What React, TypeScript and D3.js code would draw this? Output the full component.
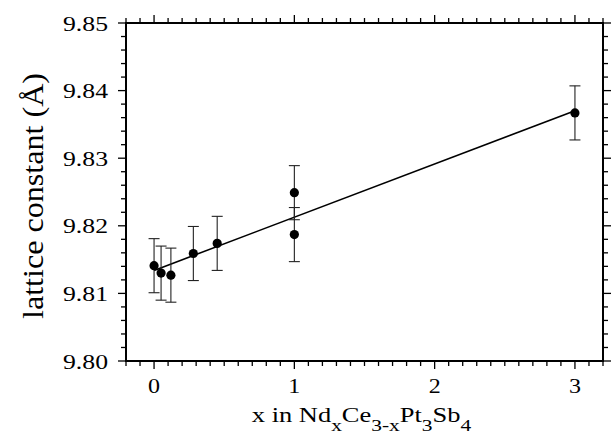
import React from "react";
import * as d3 from "d3";

const xValues = [0, 0.05, 0.12, 0.28, 0.45, 1.0, 1.0, 3.0];
const yValues = [9.8141, 9.813, 9.8127, 9.8159, 9.8174, 9.8249, 9.8187, 9.8367];
const yErrors = [0.004, 0.004, 0.004, 0.004, 0.004, 0.004, 0.004, 0.004];
const fitIntercept = 9.8134;
const fitSlope = 0.00787;
const fitRange = [0, 3];
const xTickLabels = ["0", "1", "2", "3"];
const yTickLabels = ["9.80", "9.81", "9.82", "9.83", "9.84", "9.85"];

const W = 613;
const H = 435;
const L = 126, R = 603, T = 23, B = 361;
const FONT = "Liberation Serif, Times New Roman, Times, serif";

export default function App() {
  const x = d3.scaleLinear().domain([-0.2, 3.2]).range([L, R]);
  const y = d3.scaleLinear().domain([9.8, 9.85]).range([B, T]);

  const xMinor = d3.range(-2, 33).map((i) => i / 10);
  const yMinor = d3.range(0, 26).map((i) => 9.8 + i * 0.002);
  const isMajorX = (v: number) => Math.abs(v - Math.round(v)) < 1e-6;
  const isMajorY = (v: number) => Math.abs(v * 100 - Math.round(v * 100)) < 1e-6;

  const line = d3
    .line<number>()
    .x((d) => x(d))
    .y((d) => y(fitIntercept + fitSlope * d));

  const majLen = 8, minLen = 5;

  return (
    <svg
      width={W}
      height={H}
      style={{ position: "absolute", left: 0, top: 0, background: "#fff" }}
      fontFamily={FONT}
    >
      <rect x={0} y={0} width={W} height={H} fill="#fff" />
      {xMinor.map((v, i) => {
        const len = isMajorX(v) ? majLen : minLen;
        return (
          <g key={"xt" + i} stroke="#000" strokeWidth={1.3}>
            <line x1={x(v)} x2={x(v)} y1={B} y2={B + len} />
            <line x1={x(v)} x2={x(v)} y1={T} y2={T - len} />
          </g>
        );
      })}
      {yMinor.map((v, i) => {
        const len = isMajorY(v) ? majLen : minLen;
        return (
          <g key={"yt" + i} stroke="#000" strokeWidth={1.3}>
            <line x1={L} x2={L - len} y1={y(v)} y2={y(v)} />
            <line x1={R} x2={R + len} y1={y(v)} y2={y(v)} />
          </g>
        );
      })}
      <rect x={L} y={T} width={R - L} height={B - T} fill="none" stroke="#000" strokeWidth={2} />

      {yTickLabels.map((t) => (
        <text
          key={"yl" + t}
          x={L - 18}
          y={y(+t) + 7.5}
          textAnchor="end"
          fontSize={20}
          textLength={45}
          lengthAdjust="spacingAndGlyphs"
          fill="#000"
        >
          {t}
        </text>
      ))}
      {xTickLabels.map((t) => (
        <text
          key={"xl" + t}
          x={x(+t)}
          y={B + 32}
          textAnchor="middle"
          fontSize={20}
          textLength={12}
          lengthAdjust="spacingAndGlyphs"
          fill="#000"
        >
          {t}
        </text>
      ))}

      <text
        transform={`translate(${(253 + 470) / 2},421.5) scale(1.26,1)`}
        textAnchor="middle"
        fontSize={21}
        fill="#000"
      >
        x in Nd
        <tspan fontSize={17} dy={9}>x</tspan>
        <tspan dy={-9}>Ce</tspan>
        <tspan fontSize={17} dy={9}>3-x</tspan>
        <tspan dy={-9}>Pt</tspan>
        <tspan fontSize={17} dy={9}>3</tspan>
        <tspan dy={-9}>Sb</tspan>
        <tspan fontSize={17} dy={9}>4</tspan>
      </text>
      <text
        transform={`translate(43,196) scale(1.2,1) rotate(-90)`}
        textAnchor="middle"
        fontSize={25}
        textLength={246}
        lengthAdjust="spacingAndGlyphs"
        fill="#000"
      >
        lattice constant (Å)
      </text>

      <path d={line(fitRange) || ""} fill="none" stroke="#000" strokeWidth={1.6} />

      {xValues.map((xv, i) => {
        const cx = x(xv);
        const y1 = y(yValues[i] + yErrors[i]);
        const y2 = y(yValues[i] - yErrors[i]);
        return (
          <g key={"e" + i} stroke="#222" strokeWidth={1.1}>
            <line x1={cx} x2={cx} y1={y1} y2={y2} />
            <line x1={cx - 5.5} x2={cx + 5.5} y1={y1} y2={y1} />
            <line x1={cx - 5.5} x2={cx + 5.5} y1={y2} y2={y2} />
          </g>
        );
      })}
      {xValues.map((xv, i) => (
        <circle key={"p" + i} cx={x(xv)} cy={y(yValues[i])} r={4.6} fill="#000" />
      ))}
    </svg>
  );
}
